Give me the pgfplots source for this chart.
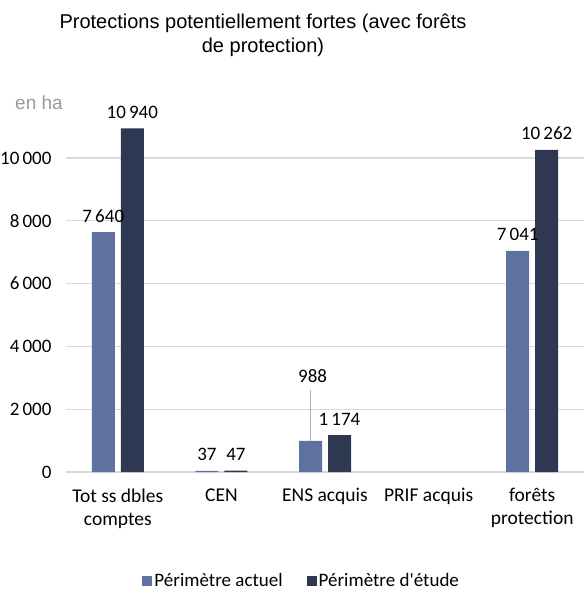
\documentclass[border=0pt]{standalone}
\usepackage{pgfplots}
\pgfplotsset{compat=1.18}
\usepackage{fontspec}
\setmainfont{Carlito}
\newfontfamily\arialfont{Liberation Sans}
\definecolor{lightbar}{RGB}{94,113,160}
\definecolor{darkbar}{RGB}{47,56,83}
\definecolor{gridgray}{RGB}{217,217,217}
\begin{document}
\begin{tikzpicture}
\useasboundingbox (-66pt,-122pt) rectangle (518pt,472pt);
\begin{axis}[
  at={(0pt,0pt)}, anchor=south west,
  scale only axis, width=518pt, height=376.8pt,
  xmin=-0.5, xmax=4.5, ymin=0, ymax=12000,
  axis line style={draw=none},
  xtick={0,1,2,3,4},
  xticklabels={{Tot ss dbles\\comptes},{CEN},{ENS acquis},{PRIF acquis},{forêts\\protection}},
  xticklabel style={align=center, font=\fontsize{19.5}{23}\selectfont, yshift=-13pt},
  major tick length=0pt,
  scaled y ticks=false,
  ytick={0,2000,4000,6000,8000,10000},
  yticklabel style={font=\fontsize{19}{22}\selectfont, xshift=-11pt},
  /pgf/number format/assume math mode=true,
  /pgf/number format/1000 sep={\,},
  /pgf/number format/1000 sep in fractionals=false,
  ymajorgrids, grid style={gridgray, line width=1.2pt},
  ybar=6pt, bar width=23pt,
  nodes near coords,
  point meta=explicit symbolic,
  every node near coord/.append style={font=\fontsize{19}{22}\selectfont, anchor=base, yshift=10pt, black},
  legend style={at={(0.455,-0.289)}, anchor=center, draw=none, legend columns=2,
    font=\fontsize{19}{22}\selectfont, /tikz/every even column/.append style={column sep=22pt}},
  legend image code/.code={\fill[#1] (0pt,-5pt) rectangle (10pt,5pt);},
]
\addplot[fill=lightbar, draw=none] table[meta=lab] {
x y lab
0 7640 {7\,640}
1 37 {37}
2 988 {}
4 7041 {7\,041}
};
\addplot[fill=darkbar, draw=none] table[meta=lab] {
x y lab
0 10940 {10\,940}
1 47 {47}
2 1174 {1\,174}
4 10262 {10\,262}
};
\legend{Périmètre actuel, Périmètre d\textquotesingle étude}
\draw[gray!60, line width=0.7pt] (axis cs:1.86,988) -- (axis cs:1.86,2600);
\node[anchor=base, font=\fontsize{19}{22}\selectfont] at (axis cs:1.88,2850) {988};
\end{axis}
\node[align=center, font=\arialfont\fontsize{20}{24}\selectfont] at (197pt,437pt) {Protections potentiellement fortes (avec forêts\\de protection)};
\node[font=\arialfont\fontsize{19}{22}\selectfont, text=gray!80] at (-27pt,369pt) {en ha};
\end{tikzpicture}
\end{document}
